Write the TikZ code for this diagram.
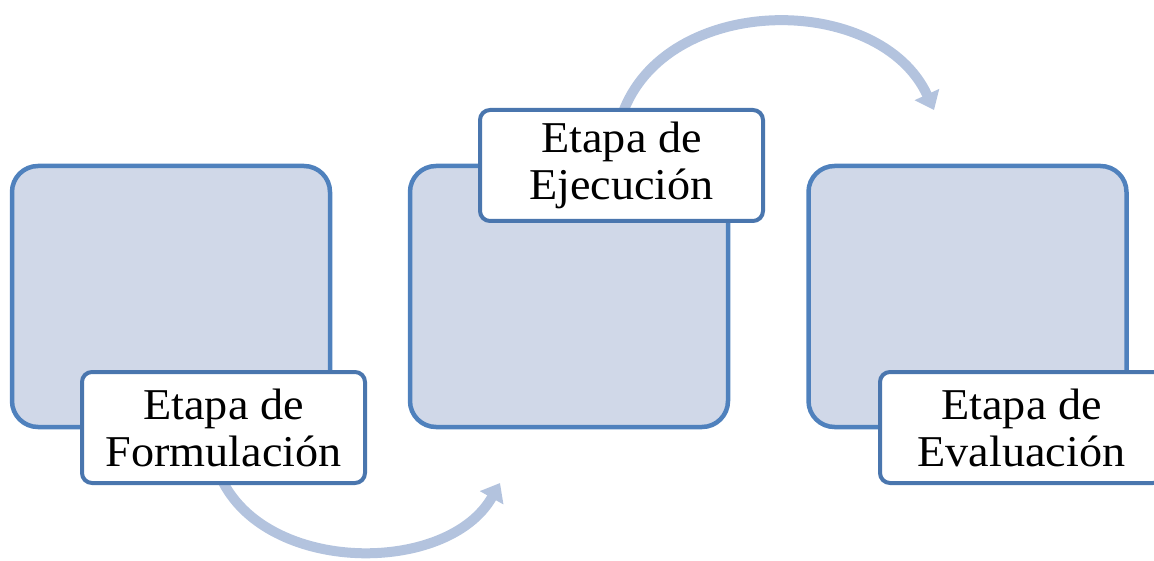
\documentclass[tikz,border=0pt]{standalone}
\usepackage{fontspec}
\setmainfont{Liberation Serif}[FakeStretch=1.05]
\usetikzlibrary{arrows.meta}
\definecolor{boxfill}{HTML}{D0D8E8}
\definecolor{boxline}{HTML}{4F81BD}
\definecolor{lblline}{HTML}{4A76AE}
\definecolor{arrowc}{HTML}{B3C3DE}
\begin{document}
\begin{tikzpicture}[x=1pt,y=-1pt,
  stage/.style={draw=boxline, line width=4.5pt, fill=boxfill, rounded corners=26pt,
    minimum width=318pt, minimum height=261pt, inner sep=0pt},
  lbl/.style={draw=lblline, line width=4pt, fill=white, rounded corners=10pt,
    minimum width=283pt, minimum height=111pt, align=center, inner sep=0pt,
    font=\fontsize{44}{47}\selectfont},
  flow/.style={draw=arrowc, line width=10pt, -{Triangle[width=26pt,length=17pt]}}]
\useasboundingbox (0,0) rectangle (1154,561);
% arrow end points
\coordinate (a1s) at (221,478);
\coordinate (a1e) at (500,483);
\coordinate (a2s) at (622,115);
\coordinate (a2e) at (934,110);
\draw[flow] (a1s) .. controls (266,575) and (448,575) .. (a1e);
\draw[flow] (a2s) .. controls (665,-8) and (880,-8) .. (a2e);
% stage boxes
\node[stage] (b1) at (171,296.5) {};
\node[stage] (b2) at (569,296.5) {};
\node[stage] (b3) at (967.5,296.5) {};
% labels
\node[lbl] (l1) at (223.5,427.5) {Etapa de\\Formulación};
\node[lbl] (l2) at (621.5,165.5) {Etapa de\\Ejecución};
\node[lbl] (l3) at (1021.5,427.5) {Etapa de\\Evaluación};
\end{tikzpicture}
\end{document}
